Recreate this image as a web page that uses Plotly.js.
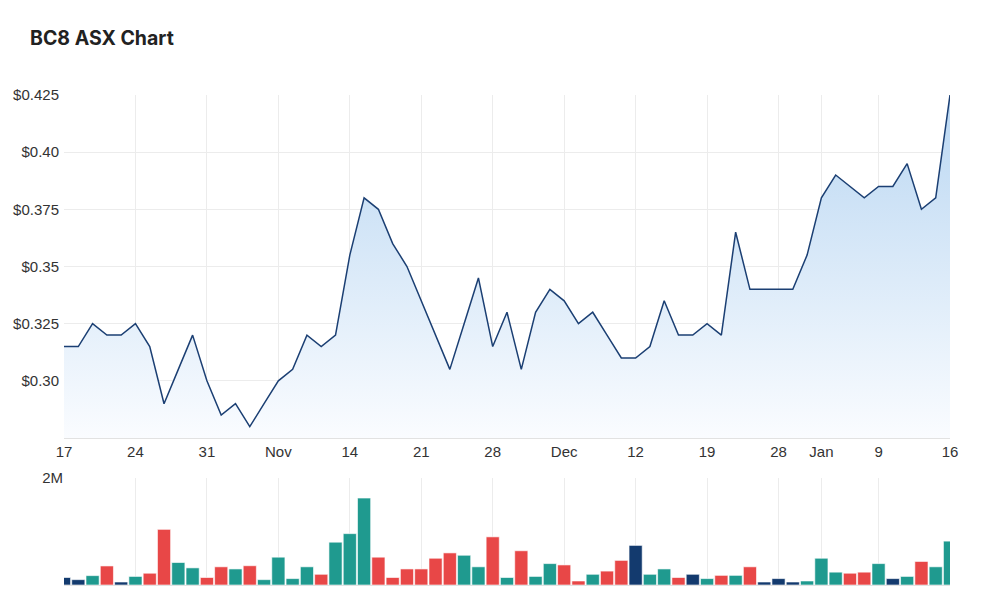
<!DOCTYPE html>
<html>
<head>
<meta charset="utf-8">
<script src="https://cdn.plot.ly/plotly-3.0.1.min.js"></script>
<style>
html,body{margin:0;padding:0;background:#fff;}
#chart{width:1000px;height:608px;}
</style>
</head>
<body>
<div id="chart"></div>
<script>
const dates = [
 "2022-10-17","2022-10-18","2022-10-19","2022-10-20","2022-10-21",
 "2022-10-24","2022-10-25","2022-10-26","2022-10-27","2022-10-28",
 "2022-10-31","2022-11-01","2022-11-02","2022-11-03","2022-11-04",
 "2022-11-07","2022-11-08","2022-11-09","2022-11-10","2022-11-11",
 "2022-11-14","2022-11-15","2022-11-16","2022-11-17","2022-11-18",
 "2022-11-21","2022-11-22","2022-11-23","2022-11-24","2022-11-25",
 "2022-11-28","2022-11-29","2022-11-30","2022-12-01","2022-12-02",
 "2022-12-05","2022-12-06","2022-12-07","2022-12-08","2022-12-09",
 "2022-12-12","2022-12-13","2022-12-14","2022-12-15","2022-12-16",
 "2022-12-19","2022-12-20","2022-12-21","2022-12-22","2022-12-23",
 "2022-12-28","2022-12-29","2022-12-30",
 "2023-01-03","2023-01-04","2023-01-05","2023-01-06",
 "2023-01-09","2023-01-10","2023-01-11","2023-01-12","2023-01-13",
 "2023-01-16"
];
const prices = [
 0.315,0.315,0.325,0.320,0.320,
 0.325,0.315,0.290,0.305,0.320,
 0.300,0.285,0.290,0.280,0.290,
 0.300,0.305,0.320,0.315,0.320,
 0.355,0.380,0.375,0.360,0.350,
 0.335,0.320,0.305,0.325,0.345,
 0.315,0.330,0.305,0.330,0.340,
 0.335,0.325,0.330,0.320,0.310,
 0.310,0.315,0.335,0.320,0.320,
 0.325,0.320,0.365,0.340,0.340,
 0.340,0.340,0.355,
 0.380,0.390,0.385,0.380,
 0.385,0.385,0.395,0.375,0.380,
 0.425
];
const volumes = [
 140000,100000,175000,356000,56000,
 160000,220000,1040000,420000,320000,
 140000,340000,300000,360000,100000,
 520000,120000,340000,200000,800000,
 960000,1625000,520000,140000,300000,
 300000,500000,600000,556000,340000,
 900000,140000,640000,160000,400000,
 375000,75000,200000,260000,460000,
 740000,200000,300000,140000,200000,
 120000,180000,180000,340000,56000,
 120000,56000,75000,
 500000,240000,220000,240000,
 400000,120000,160000,440000,340000,
 820000
];
const priceTickVals = [0.30,0.325,0.35,0.375,0.40,0.425];
const priceTickText = ["$0.30","$0.325","$0.35","$0.375","$0.40","$0.425"];
const dateTickVals = ["2022-10-17","2022-10-24","2022-10-31","2022-11-07","2022-11-14","2022-11-21","2022-11-28","2022-12-05","2022-12-12","2022-12-19","2022-12-28","2023-01-03","2023-01-09","2023-01-16"];
const dateTickText = ["17","24","31","Nov","14","21","28","Dec","12","19","28","Jan","9","16"];

const UP = "#1f9a8f", DOWN = "#e84747", FLAT = "#133a6e";
const barColors = volumes.map((v,i) => {
  if (i === 0) return FLAT;
  const d = Math.round((prices[i]-prices[i-1])*1000);
  return d > 0 ? UP : (d < 0 ? DOWN : FLAT);
});

const xIdx = dates.map((d,i)=>i);
const tickIdx = dateTickVals.map(d => dates.indexOf(d));

const priceTrace = {
  x: xIdx, y: prices, type: "scatter", mode: "lines",
  line: {color: "#1b3f73", width: 1.5},
  fill: "tozeroy",
  fillgradient: {type: "vertical", start: 0.275, stop: 0.425,
    colorscale: [[0, "rgba(250,252,255,1)"], [1, "rgba(186,215,242,1)"]]},
  xaxis: "x", yaxis: "y", hoverinfo: "skip"
};
const volTrace = {
  x: xIdx, y: volumes, type: "bar",
  marker: {color: barColors, line: {color: "rgba(255,255,255,0.6)", width: 1}},
  width: 0.92,
  xaxis: "x2", yaxis: "y2", hoverinfo: "skip"
};

const gridC = "#ececec";
const tickFont = {family: "Liberation Sans, Arial, sans-serif", size: 15, color: "#333"};
const layout = {
  width: 1000, height: 608,
  paper_bgcolor: "#fff", plot_bgcolor: "#fff",
  margin: {l: 64, r: 50, t: 95, b: 23},
  showlegend: false,
  title: {text: "<b>BC8 ASX Chart</b>", x: 0.03, xanchor: "left", xref: "container",
    y: 0.937, yanchor: "middle", yref: "container",
    font: {family: "Inter, Liberation Sans, sans-serif", size: 19.5, color: "#222"}},
  xaxis: {domain: [0,1], anchor: "y", range: [0, 62], type: "linear",
    tickvals: tickIdx, ticktext: dateTickText, tickfont: tickFont,
    showgrid: true, gridcolor: gridC, gridwidth: 1, zeroline: false,
    showline: true, linecolor: "#e2e2e2", linewidth: 1, ticks: "", ticklen: 0},
  yaxis: {domain: [0.3, 1], anchor: "x", range: [0.275, 0.425],
    tickvals: priceTickVals, ticktext: priceTickText, tickfont: tickFont,
    showgrid: true, gridcolor: gridC, zeroline: false, ticks: "", ticklabelstandoff: 4},
  xaxis2: {domain: [0,1], anchor: "y2", range: [0, 62], type: "linear",
    tickvals: tickIdx, showticklabels: false,
    showgrid: true, gridcolor: gridC, zeroline: false,
    showline: true, linecolor: "#e2e2e2", ticks: ""},
  yaxis2: {domain: [0, 0.2184], anchor: "x2", range: [0, 2000000],
    tickvals: [2000000], ticktext: ["2M"], tickfont: tickFont,
    showgrid: true, gridcolor: gridC, zeroline: false, ticks: ""},
  bargap: 0.08
};

Plotly.newPlot("chart", [priceTrace, volTrace], layout, {staticPlot: true, displayModeBar: false});
</script>
</body>
</html>
